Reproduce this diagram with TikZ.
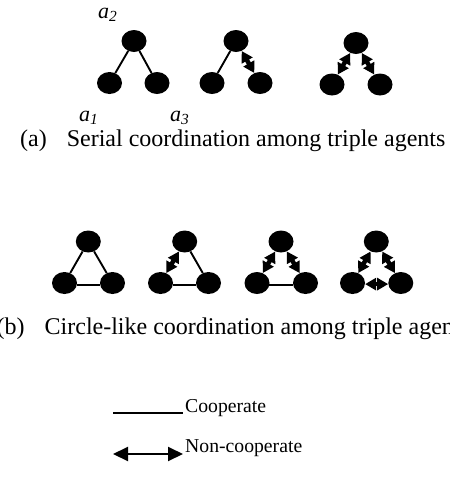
\documentclass[tikz,border=0pt]{standalone}
\usepackage{fontspec}
\setmainfont{Liberation Serif}
\usetikzlibrary{shapes.geometric,arrows.meta}
\begin{document}
\begin{tikzpicture}[x=1pt,y=-1pt,
  agent/.style={ellipse,fill=black,minimum width=25pt,minimum height=22pt,inner sep=0pt},
  coop/.style={line width=1.9pt},
  ncoop/.style={line width=4.5pt,{Triangle[length=11pt,width=12pt]}-{Triangle[length=11pt,width=12pt]}},
  legarrow/.style={line width=2pt,{Triangle[length=15pt,width=14pt]}-{Triangle[length=15pt,width=14pt]}},
  captext/.style={anchor=base west,inner sep=0pt,font=\fontsize{24}{28}\selectfont},
  legtext/.style={anchor=base west,inner sep=0pt,font=\fontsize{19.7}{24}\selectfont},
  albl/.style={anchor=base west,inner sep=0pt,font=\fontsize{22}{26}\selectfont\itshape}]
\useasboundingbox (0,0) rectangle (450,488);
% (a) serial
\node[agent] (a1t) at (134,41) {};
\node[agent] (a1l) at (109.5,83) {};
\node[agent] (a1r) at (157,83) {};
\draw[coop] (a1t) -- (a1l);
\draw[coop] (a1t) -- (a1r);
\node[agent] (a2t) at (236,41) {};
\node[agent] (a2l) at (212,83) {};
\node[agent] (a2r) at (260,83) {};
\draw[coop] (a2t) -- (a2l);
\draw[ncoop] (a2t) -- (a2r);
\node[agent] (a3t) at (356,43) {};
\node[agent] (a3l) at (332,84.5) {};
\node[agent] (a3r) at (380,84.5) {};
\draw[ncoop] (a3t) -- (a3l);
\draw[ncoop] (a3t) -- (a3r);
\node[albl] (lab2) at (98,18) {a\textsubscript{2}};
\node[albl] (lab1) at (79,121) {a\textsubscript{1}};
\node[albl] (lab3) at (170,121) {a\textsubscript{3}};
\node[captext] (capa) at (20,146) {(a)\hspace{20pt}Serial coordination among triple agents};
% (b) circle-like
\node[agent] (b1t) at (88.3,241.5) {};
\node[agent] (b1l) at (64.5,283) {};
\node[agent] (b1r) at (112.5,283) {};
\draw[coop] (b1t) -- (b1l);
\draw[coop] (b1t) -- (b1r);
\draw[coop] (b1l.-10) -- (b1r.190);
\node[agent] (b2t) at (184.7,241.5) {};
\node[agent] (b2l) at (160.5,283) {};
\node[agent] (b2r) at (208.5,283) {};
\draw[ncoop] (b2t) -- (b2l);
\draw[coop] (b2t) -- (b2r);
\draw[coop] (b2l.-10) -- (b2r.190);
\node[agent] (b3t) at (281,241.5) {};
\node[agent] (b3l) at (257,283) {};
\node[agent] (b3r) at (305.5,283) {};
\draw[ncoop] (b3t) -- (b3l);
\draw[ncoop] (b3t) -- (b3r);
\draw[coop] (b3l.-10) -- (b3r.190);
\node[agent] (b4t) at (376.3,241.5) {};
\node[agent] (b4l) at (352.5,283) {};
\node[agent] (b4r) at (400.8,283) {};
\draw[ncoop] (b4t) -- (b4l);
\draw[ncoop] (b4t) -- (b4r);
\draw[ncoop] (b4l.-5) -- (b4r.185);
\node[captext] (capb) at (-3.5,334) {(b)\hspace{20pt}Circle-like coordination among triple agents};
% legend
\coordinate (c1) at (113,413);
\coordinate (c2) at (183,413);
\draw[coop] (c1) -- (c2);
\node[legtext] (coopt) at (185,412) {Cooperate};
\coordinate (n1) at (113,454);
\coordinate (n2) at (183,454);
\draw[legarrow] (n1) -- (n2);
\node[legtext] (ncoopt) at (185,452) {Non-cooperate};
\end{tikzpicture}
\end{document}
